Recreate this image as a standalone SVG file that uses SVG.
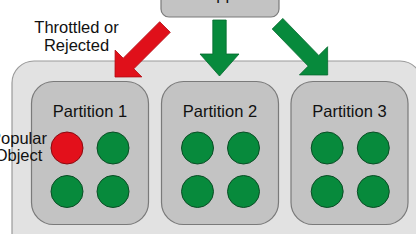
<svg xmlns="http://www.w3.org/2000/svg" width="416" height="234" viewBox="0 0 416 234">
<style>
  text { font-family: "Liberation Sans", Arial, sans-serif; font-size: 16.5px; fill: #111; }
  .box { fill: #c3c3c3; stroke: #7a7a7a; stroke-width: 1.2; }
  .outer { fill: #e2e2e2; stroke: #9a9a9a; stroke-width: 1.2; }
  .ok { fill: #078a3c; stroke: #0a4d25; stroke-width: 1; }
  .hot { fill: #e3101b; stroke: #8a0a10; stroke-width: 1; }
  .arr-red { fill: #e0101a; stroke: #b00a12; stroke-width: 0.8; }
  .arr-green { fill: #078a3c; stroke: #056a2e; stroke-width: 0.8; }
</style>
<rect width="416" height="234" fill="#ffffff"/>
<g id="app">
  <rect class="box" x="161" y="-20" width="118" height="37" rx="8"/>
  <text x="220" y="0" text-anchor="middle">App</text>
</g>
<g id="cluster">
  <rect class="outer" x="12" y="61" width="410" height="200" rx="22"/>
</g>
<g id="connectors">
  <polygon class="arr-red" points="159.7,21.7 123.2,58.2 115.1,50.1 115,77 141.9,76.9 133.8,68.8 170.3,32.3"/>
  <polygon class="arr-green" points="212.8,20 212.8,54 200,54 219.5,76 239,54 226.2,54 226.2,20"/>
  <polygon class="arr-green" points="282.8,18.4 318.8,55.5 327.6,46.7 327.7,75 299.4,74.9 308.2,66.1 272.2,29"/>
</g>
<g id="label-throttled">
  <text x="76.5" y="33" text-anchor="middle">Throttled or</text>
  <text x="76.5" y="51" text-anchor="middle">Rejected</text>
</g>
<g id="partition1">
  <rect class="box" x="31.5" y="81.5" width="117" height="143" rx="22"/>
  <text x="90" y="116.5" text-anchor="middle">Partition 1</text>
  <circle class="hot" cx="67" cy="148" r="16"/>
  <circle class="ok" cx="113" cy="148" r="16"/>
  <circle class="ok" cx="67" cy="191.5" r="16"/>
  <circle class="ok" cx="113" cy="191.5" r="16"/>
</g>
<g id="partition2">
  <rect class="box" x="161.5" y="81.5" width="117" height="143" rx="22"/>
  <text x="220" y="116.5" text-anchor="middle">Partition 2</text>
  <circle class="ok" cx="197.5" cy="148" r="16"/>
  <circle class="ok" cx="243.5" cy="148" r="16"/>
  <circle class="ok" cx="197.5" cy="191.5" r="16"/>
  <circle class="ok" cx="243.5" cy="191.5" r="16"/>
</g>
<g id="partition3">
  <rect class="box" x="291" y="81.5" width="117" height="143" rx="22"/>
  <text x="349.5" y="116.5" text-anchor="middle">Partition 3</text>
  <circle class="ok" cx="327.2" cy="148" r="16"/>
  <circle class="ok" cx="373.3" cy="148" r="16"/>
  <circle class="ok" cx="327.2" cy="191.5" r="16"/>
  <circle class="ok" cx="373.3" cy="191.5" r="16"/>
</g>
<g id="label-popular">
  <text x="18.5" y="144" text-anchor="middle">Popular</text>
  <text x="18.5" y="161" text-anchor="middle">Object</text>
</g>
</svg>
